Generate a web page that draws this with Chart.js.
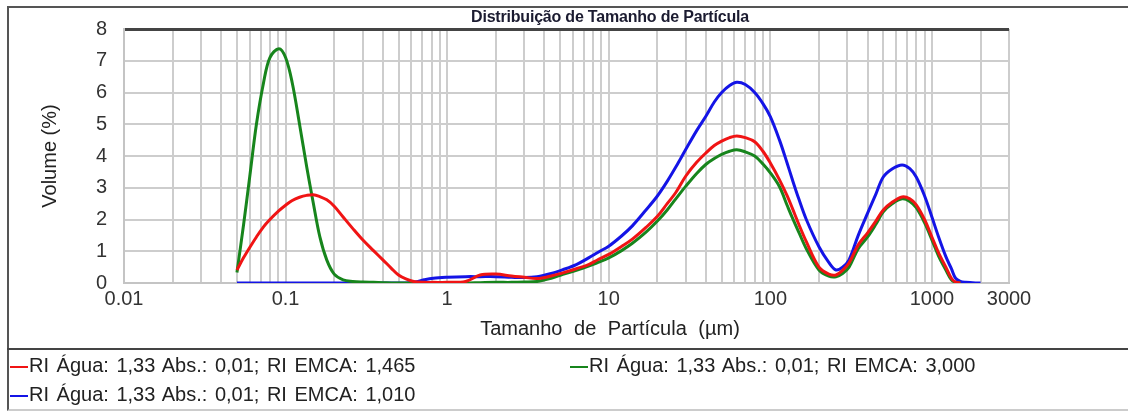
<!DOCTYPE html>
<html>
<head>
<meta charset="utf-8">
<script src="https://cdn.jsdelivr.net/npm/chart.js@4.4.1/dist/chart.umd.min.js"></script>
<style>
  body { margin: 0; background: #fff; font-family: "Liberation Sans", Arial, sans-serif; }
  #box { position: relative; width: 1128px; height: 411px; overflow: hidden; background: #fff; }
  #chart { position: absolute; left: 0; top: 0; }
  .frame { position: absolute; left: 7px; top: 6px; right: -5px; bottom: 0; border-left: 2px solid #555; border-top: 2px solid #555; border-bottom: 2px solid #ccc; }
  .sep { position: absolute; left: 7px; right: 0; top: 348px; border-top: 2px solid #444; }
  #title { position: absolute; top: 8px; left: 0; width: 1220px; text-align: center; font-weight: bold; font-size: 16px; line-height: 18px; letter-spacing: -0.2px; color: #1b1b30; }
  #xtitle { position: absolute; top: 317px; left: 0; width: 1220px; text-align: center; font-size: 20px; color: #222; word-spacing: 6px; }
  #legend { position: absolute; left: 10px; top: 351px; display: grid; grid-template-columns: 560px 540px; font-size: 20px; color: #222; word-spacing: 2px; }
  .item { height: 29px; line-height: 29px; white-space: nowrap; }
  .item i { display: inline-block; width: 18px; height: 2px; vertical-align: middle; margin-right: 1px; }
</style>
</head>
<body>
<div id="box">
  <canvas id="chart" width="1128" height="411"></canvas>
  <div class="frame"></div>
  <div class="sep"></div>
  <div id="title">Distribuição de Tamanho de Partícula</div>
  <div id="xtitle">Tamanho de Partícula (µm)</div>
  <div id="legend"></div>
</div>
<script>
// particle size (µm)
const sizes = [0.05, 0.055, 0.06, 0.066, 0.073, 0.08, 0.091, 0.1, 0.11, 0.122,
  0.135, 0.148, 0.163, 0.18, 0.2, 0.227, 0.26, 0.3, 0.35, 0.4,
  0.45, 0.5, 0.56, 0.63, 0.72, 0.82, 1, 1.3, 1.6, 2,
  2.5, 3, 3.6, 4.4, 5.2, 6.3, 7.5, 8.6, 10, 12,
  14, 17, 20, 23, 26, 30, 35, 40, 45, 50,
  56, 62, 70, 80, 90, 100, 114, 127, 137, 150,
  167, 200, 230, 255, 280, 307, 350, 400, 450, 500,
  570, 654, 730, 800, 900, 1000, 1100, 1220, 1320, 1400,
  1500, 1620, 1860, 2000];

// volume (%) - RI EMCA 1,465
const emca1465 = [0.41, 0.8, 1.12, 1.45, 1.77, 2.0, 2.28, 2.45, 2.6, 2.7,
  2.76, 2.78, 2.72, 2.62, 2.42, 2.08, 1.72, 1.36, 1.02, 0.73,
  0.47, 0.25, 0.12, 0.04, 0.02, 0.02, 0.02, 0.05, 0.25, 0.28,
  0.22, 0.18, 0.14, 0.22, 0.32, 0.45, 0.58, 0.74, 0.9, 1.15,
  1.38, 1.75, 2.1, 2.5, 2.85, 3.37, 3.8, 4.1, 4.33, 4.47,
  4.58, 4.63, 4.58, 4.45, 4.15, 3.78, 3.25, 2.75, 2.35, 1.85,
  1.3, 0.5, 0.28, 0.25, 0.4, 0.63, 1.2, 1.58, 1.95, 2.3,
  2.55, 2.71, 2.65, 2.46, 2.0, 1.45, 0.95, 0.5, 0.15, 0.03,
  0, null, null, null];

// volume (%) - RI EMCA 3,000
const emca3000 = [0.33, 1.85, 3.35, 5.0, 6.3, 7.1, 7.38, 7.1, 6.3, 5.0,
  3.67, 2.55, 1.45, 0.72, 0.28, 0.1, 0.05, 0.03, 0.02, 0.01,
  0, 0, 0, 0, 0, 0, 0, 0, 0.01, 0.02,
  0.02, 0.03, 0.05, 0.15, 0.27, 0.4, 0.53, 0.65, 0.79, 1.02,
  1.25, 1.6, 1.95, 2.3, 2.65, 3.05, 3.45, 3.74, 3.92, 4.05,
  4.15, 4.2, 4.13, 4.0, 3.75, 3.47, 3.03, 2.45, 2.05, 1.6,
  1.08, 0.41, 0.22, 0.2, 0.3, 0.5, 1.08, 1.45, 1.85, 2.24,
  2.5, 2.65, 2.57, 2.37, 1.9, 1.36, 0.85, 0.41, 0.1, 0.02,
  0, null, null, null];

// volume (%) - RI EMCA 1,010
const emca1010 = [0, 0, 0, 0, 0, 0, 0, 0, 0, 0,
  0, 0, 0, 0, 0, 0, 0, 0, 0, 0,
  0, 0, 0, 0.03, 0.1, 0.15, 0.18, 0.2, 0.2, 0.2,
  0.18, 0.17, 0.2, 0.3, 0.42, 0.58, 0.79, 0.97, 1.16, 1.48,
  1.8, 2.3, 2.74, 3.2, 3.65, 4.21, 4.8, 5.26, 5.7, 6.0,
  6.22, 6.32, 6.25, 6.0, 5.65, 5.24, 4.5, 3.78, 3.25, 2.65,
  2.0, 1.14, 0.65, 0.41, 0.5, 0.73, 1.5, 2.2, 2.8, 3.34,
  3.6, 3.72, 3.6, 3.34, 2.75, 2.08, 1.45, 0.83, 0.45, 0.15,
  0.05, 0.02, 0, 0];

const seriesLabels = [
  'RI Água: 1,33 Abs.: 0,01; RI EMCA: 1,465',
  'RI Água: 1,33 Abs.: 0,01; RI EMCA: 3,000',
  'RI Água: 1,33 Abs.: 0,01; RI EMCA: 1,010'
];
const seriesColors = ['#f01414', '#17851c', '#1414e6'];

const xTickLabels = [0.01, 0.1, 1, 10, 100, 1000, 3000];

// grid lines at 1..9 of every decade, up to 3000
const gridValues = [];
for (let e = -2; e <= 3; e++) {
  for (let m = 1; m <= 9; m++) {
    const v = Number((m * Math.pow(10, e)).toPrecision(2));
    if (v <= 3000) gridValues.push(v);
  }
}

function points(values) {
  return sizes.map((s, i) => ({ x: s, y: values[i] }));
}

const series = [emca1465, emca3000, emca1010];

const data = {
  datasets: series.map((vals, i) => ({
    label: seriesLabels[i],
    data: points(vals),
    borderColor: seriesColors[i],
    backgroundColor: seriesColors[i],
    borderWidth: 3,
    pointRadius: 0,
    tension: 0.35,
    spanGaps: false
  }))
};

const options = {
  responsive: false,
  animation: false,
  layout: { padding: { left: 0, top: 29, right: 119, bottom: 0 } },
  plugins: {
    legend: { display: false },
    tooltip: { enabled: false }
  },
  scales: {
    x: {
      type: 'logarithmic',
      min: 0.01,
      max: 3000,
      afterBuildTicks: (scale) => { scale.ticks = gridValues.map(v => ({ value: v })); },
      afterFit: (scale) => { scale.height = 128; },
      ticks: {
        autoSkip: false,
        maxRotation: 0,
        minRotation: 0,
        padding: 4,
        color: '#333',
        font: { family: '"Liberation Sans", Arial', size: 20 },
        callback: (value) => xTickLabels.includes(value) ? String(value) : ''
      },
      grid: { color: '#cdcdcd', lineWidth: 2, drawTicks: false },
      border: { display: true, color: '#c4c4c4', width: 2 }
    },
    y: {
      min: 0,
      max: 8,
      afterFit: (scale) => { scale.width = 124; },
      ticks: {
        stepSize: 1,
        padding: 17,
        color: '#333',
        font: { family: '"Liberation Sans", Arial', size: 20 }
      },
      grid: {
        drawTicks: false,
        color: (ctx) => ctx.tick && ctx.tick.value === 8 ? '#444' : '#cdcdcd',
        lineWidth: (ctx) => ctx.tick && ctx.tick.value === 8 ? 3 : 2
      },
      border: { display: true, color: '#c4c4c4', width: 2 },
      title: {
        display: true,
        text: 'Volume (%)',
        color: '#222',
        font: { family: '"Liberation Sans", Arial', size: 20 },
        padding: { top: 38, bottom: 0 }
      }
    }
  }
};

const config = {
  type: 'line',
  data: data,
  options: options
};

const ctx = document.getElementById('chart');
const myChart = new Chart(ctx, config);

// legend built from the chart's datasets
const legendBox = document.getElementById('legend');
myChart.data.datasets.forEach(ds => {
  const item = document.createElement('div');
  item.className = 'item';
  const mark = document.createElement('i');
  mark.style.background = ds.borderColor;
  item.appendChild(mark);
  item.appendChild(document.createTextNode(ds.label));
  legendBox.appendChild(item);
});
</script>
</body>
</html>
